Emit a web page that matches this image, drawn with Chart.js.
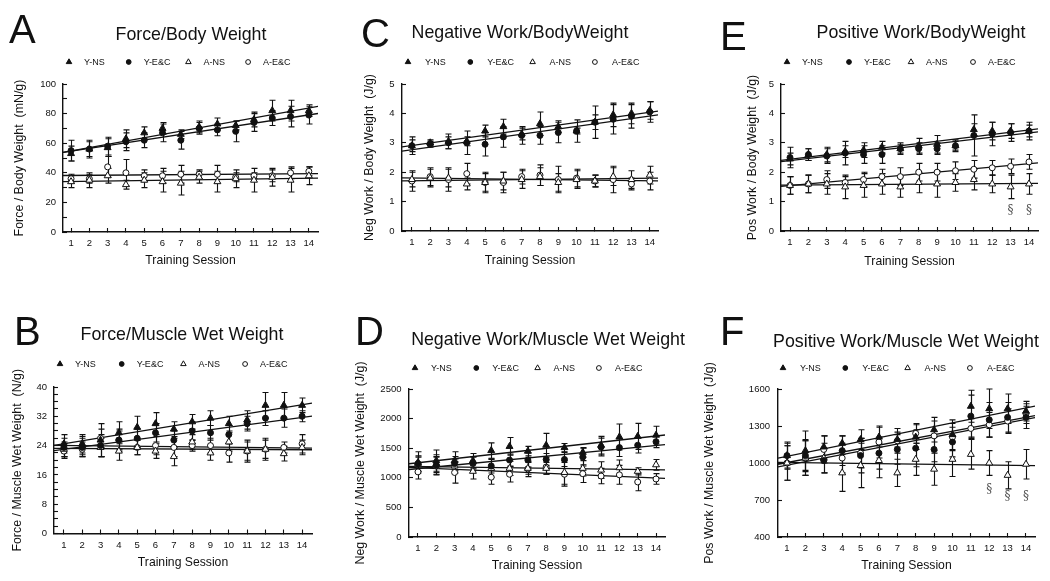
<!DOCTYPE html>
<html>
<head>
<meta charset="utf-8">
<script src="https://cdn.jsdelivr.net/npm/chart.js@4.4.1/dist/chart.umd.min.js"></script>
<style>
  html, body { margin: 0; padding: 0; background: #fff; }
  #page { position: relative; width: 1050px; height: 581px; overflow: hidden; }
  canvas { position: absolute; }
</style>
</head>
<body>
<div id="page">
  <canvas id="cA" width="350" height="290" style="left:0;top:0"></canvas>
  <canvas id="cC" width="350" height="290" style="left:350px;top:0"></canvas>
  <canvas id="cE" width="350" height="290" style="left:700px;top:0"></canvas>
  <canvas id="cB" width="350" height="291" style="left:0;top:290px"></canvas>
  <canvas id="cD" width="350" height="291" style="left:350px;top:290px"></canvas>
  <canvas id="cF" width="350" height="291" style="left:700px;top:290px"></canvas>
</div>
<script>
// ── Data ────────────────────────────────────────────────────────────────────
const sessions = [1, 2, 3, 4, 5, 6, 7, 8, 9, 10, 11, 12, 13, 14];
const groups = ['Y-NS', 'Y-E&C', 'A-NS', 'A-E&C'];

// A: Force / Body Weight (mN/g)
const A_YNS   = [53, 56, 57, 63, 67, 70, 66, 71, 73, 72, 76, 82, 82, 82];
const A_YNS_e = [5, 5, 6, 6, 4, 4, 3, 4, 4, 3, 5, 7, 7, 4];
const A_YEC   = [55, 56, 58, 61, 62, 67, 62, 70, 69, 68, 74, 77, 78, 79];
const A_YEC_e = [7, 6, 6, 6, 5, 6, 6, 4, 4, 7, 6, 5, 7, 6];
const A_ANS   = [34, 35, 38, 32, 35, 34, 33, 37, 34, 36, 35, 37, 35, 38];
const A_ANS_e = [4, 5, 5, 3, 5, 7, 8, 4, 7, 6, 8, 6, 8, 6];
const A_AEC   = [36, 36, 44, 40, 38, 38, 39, 39, 39, 37, 38, 38, 40, 41];
const A_AEC_e = [3, 3, 7, 9, 4, 5, 6, 3, 6, 3, 2, 4, 4, 3];
const A_yTicks = [0, 20, 40, 60, 80, 100];
const A_yMinor = [10, 30, 50, 70, 90];

// C: Negative Work / Body Weight (J/g)
const C_YNS   = [2.9, 3.0, 3.05, 3.05, 3.4, 3.55, 3.3, 3.65, 3.55, 3.4, 3.7, 3.95, 4.0, 4.1];
const C_YNS_e = [0.3, 0.1, 0.25, 0.15, 0.2, 0.25, 0.2, 0.4, 0.2, 0.1, 0.25, 0.4, 0.35, 0.3];
const C_YEC   = [2.9, 2.95, 3.0, 3.0, 2.95, 3.2, 3.25, 3.25, 3.35, 3.4, 3.7, 3.8, 3.9, 4.05];
const C_YEC_e = [0.2, 0.1, 0.2, 0.4, 0.4, 0.35, 0.3, 0.3, 0.35, 0.38, 0.55, 0.5, 0.4, 0.35];
const C_ANS   = [1.75, 1.8, 1.8, 1.6, 1.65, 1.7, 1.75, 1.85, 1.65, 1.75, 1.7, 1.85, 1.75, 1.9];
const C_ANS_e = [0.25, 0.3, 0.3, 0.2, 0.3, 0.3, 0.3, 0.3, 0.3, 0.3, 0.2, 0.3, 0.3, 0.3];
const C_AEC   = [1.7, 1.85, 1.75, 1.95, 1.65, 1.65, 1.85, 1.9, 1.75, 1.8, 1.7, 1.75, 1.6, 1.7];
const C_AEC_e = [0.35, 0.3, 0.4, 0.35, 0.35, 0.35, 0.25, 0.35, 0.45, 0.3, 0.2, 0.45, 0.2, 0.3];
const C_yTicks = [0, 1, 2, 3, 4, 5];

// E: Positive Work / Body Weight (J/g)
const E_YNS   = [2.45, 2.6, 2.6, 2.7, 2.75, 2.85, 2.8, 2.9, 2.95, 2.9, 3.45, 3.4, 3.4, 3.4];
const E_YNS_e = [0.2, 0.2, 0.25, 0.2, 0.25, 0.2, 0.15, 0.25, 0.3, 0.15, 0.2, 0.3, 0.25, 0.2];
const E_YEC   = [2.5, 2.6, 2.55, 2.65, 2.6, 2.6, 2.8, 2.8, 2.8, 2.9, 3.25, 3.3, 3.35, 3.4];
const E_YEC_e = [0.35, 0.2, 0.25, 0.4, 0.3, 0.3, 0.2, 0.2, 0.2, 0.2, 0.7, 0.4, 0.3, 0.3];
const E_ANS   = [1.55, 1.6, 1.6, 1.5, 1.55, 1.6, 1.5, 1.65, 1.6, 1.65, 1.75, 1.6, 1.5, 1.6];
const E_ANS_e = [0.3, 0.3, 0.35, 0.4, 0.4, 0.35, 0.35, 0.35, 0.45, 0.3, 0.35, 0.3, 0.4, 0.35];
const E_AEC   = [1.55, 1.6, 1.75, 1.65, 1.75, 1.85, 1.85, 2.0, 2.0, 2.05, 2.1, 2.15, 2.2, 2.35];
const E_AEC_e = [0.3, 0.3, 0.3, 0.2, 0.25, 0.25, 0.3, 0.3, 0.3, 0.3, 0.3, 0.25, 0.25, 0.25];
const E_yTicks = [0, 1, 2, 3, 4, 5];
const E_markSessions = [13, 14];
const E_markY = [0.7, 0.7];

// B: Force / Muscle Wet Weight (N/g)
const B_YNS   = [24.5, 24.5, 25.5, 27.5, 29, 30, 28.5, 30.5, 31.5, 30, 31, 35, 35, 35];
const B_YNS_e = [2.5, 2.5, 4.5, 3, 3, 3, 2, 2, 2, 2, 2.5, 3.5, 3.5, 2];
const B_YEC   = [23.5, 23.5, 24, 25.5, 26, 27.5, 25.5, 28, 27.5, 27, 30, 31.5, 31.5, 32];
const B_YEC_e = [2.5, 2.5, 3, 3, 2.5, 2.5, 2.5, 2.5, 2, 2.5, 2, 2, 2.5, 1.5];
const B_ANS   = [23, 24, 23.5, 22.5, 23.5, 22.5, 21, 25, 22, 25, 22.5, 23, 21.8, 23.5];
const B_ANS_e = [2, 2.5, 2.5, 2.5, 2, 2, 2.5, 2, 2, 2.5, 2.5, 2.5, 2, 2];
const B_AEC   = [22.5, 23, 26, 25.5, 23.5, 24, 23.5, 24, 24, 22, 22.5, 23, 23.5, 24.5];
const B_AEC_e = [2, 2, 2.5, 2.5, 2, 2.5, 2.5, 1.5, 2, 2.5, 3, 3, 1.5, 2.5];
const B_yTicks = [0, 8, 16, 24, 32, 40];
const B_yMinor = [2, 4, 6, 10, 12, 14, 18, 20, 22, 26, 28, 30, 34, 36, 38];

// D: Negative Work / Muscle Wet Weight (J/g)
const D_YNS   = [1260, 1290, 1290, 1290, 1460, 1530, 1450, 1550, 1510, 1430, 1550, 1690, 1700, 1720];
const D_YNS_e = [180, 180, 150, 120, 130, 150, 80, 200, 70, 80, 150, 220, 220, 150];
const D_YEC   = [1240, 1210, 1240, 1250, 1200, 1300, 1300, 1310, 1310, 1350, 1520, 1510, 1550, 1610];
const D_YEC_e = [130, 150, 120, 100, 120, 100, 120, 100, 120, 150, 150, 150, 130, 100];
const D_ANS   = [1230, 1240, 1200, 1110, 1160, 1160, 1160, 1160, 1090, 1160, 1130, 1170, 1110, 1220];
const D_ANS_e = [120, 150, 120, 130, 150, 120, 100, 100, 200, 130, 140, 130, 60, 90];
const D_AEC   = [1100, 1200, 1090, 1240, 1010, 1060, 1150, 1180, 1060, 1070, 1030, 1050, 930, 980];
const D_AEC_e = [120, 150, 180, 120, 120, 130, 130, 120, 200, 150, 130, 160, 150, 90];
const D_yTicks = [0, 500, 1000, 1500, 2000, 2500];

// F: Positive Work / Muscle Wet Weight (J/g)
const F_YNS   = [1060, 1100, 1130, 1160, 1190, 1210, 1190, 1210, 1270, 1230, 1460, 1440, 1440, 1420];
const F_YNS_e = [100, 160, 90, 60, 80, 80, 60, 100, 100, 120, 130, 160, 120, 80];
const F_YEC   = [1060, 1060, 1020, 1100, 1060, 1080, 1110, 1120, 1110, 1170, 1380, 1350, 1370, 1370];
const F_YEC_e = [110, 130, 100, 120, 140, 130, 120, 150, 100, 120, 170, 140, 120, 90];
const F_ANS   = [1000, 1040, 1040, 920, 980, 1020, 920, 1030, 950, 1030, 1070, 1000, 900, 990];
const F_ANS_e = [140, 140, 120, 150, 180, 140, 110, 130, 130, 140, 120, 100, 110, 120];
const F_AEC   = [1000, 1040, 1110, 1040, 1080, 1170, 1180, 1240, 1220, 1210, 1280, 1310, 1340, 1400];
const F_AEC_e = [140, 140, 110, 120, 120, 130, 100, 80, 120, 110, 80, 100, 100, 80];
const F_yTicks = [400, 700, 1000, 1300, 1600];
const F_markSessions = [12, 13, 14];
const F_markY = [780, 725, 725];

// ── Panel layout (local canvas px) ──────────────────────────────────────────
const FONT = "'Liberation Sans', Arial, Helvetica, sans-serif";
const INK = '#111';
const TICK_SIZE = 9.5;
const XTITLE_SIZE = 12.2;
const YTITLE_SIZE = 12.4;
const styles = [
  { shape: 'triangle', fill: true },
  { shape: 'circle', fill: true },
  { shape: 'triangle', fill: false },
  { shape: 'circle', fill: false },
];

const panels = [
  { id: 'cA', letter: 'A', lx: 9, ly: 43, title: 'Force/Body Weight', tx: 191, ty: 35,
    legX: 69, legDX: 59.7, legTX: 15, legY: 62,
    area: [63, 84, 318, 232], xMin: 0.56, xMax: 14.5, yMin: 0, yMax: 100,
    yTicks: A_yTicks, yMinor: A_yMinor, yTitle: 'Force / Body Weight  (mN/g)', yTitleX: 20, yGap: 7,
    xTitleY: 261, xLabOff: 11,
    series: [[A_YNS, A_YNS_e], [A_YEC, A_YEC_e], [A_ANS, A_ANS_e], [A_AEC, A_AEC_e]] },
  { id: 'cC', letter: 'C', lx: 11, ly: 47, title: 'Negative Work/BodyWeight', tx: 170, ty: 33,
    legX: 58, legDX: 62.3, legTX: 17, legY: 62,
    area: [52, 84, 308, 231], xMin: 0.46, xMax: 14.45, yMin: 0, yMax: 5,
    yTicks: C_yTicks, yMinor: [], yTitle: 'Neg Work / Body Weight  (J/g)', yTitleX: 20, yGap: 7.5,
    xTitleY: 261, xLabOff: 11,
    series: [[C_YNS, C_YNS_e], [C_YEC, C_YEC_e], [C_ANS, C_ANS_e], [C_AEC, C_AEC_e]] },
  { id: 'cE', letter: 'E', lx: 20, ly: 50, title: 'Positive Work/BodyWeight', tx: 221, ty: 33,
    legX: 87, legDX: 62, legTX: 15, legY: 62,
    area: [81, 84, 338, 231], xMin: 0.51, xMax: 14.49, yMin: 0, yMax: 5,
    yTicks: E_yTicks, yMinor: [], yTitle: 'Pos Work / Body Weight  (J/g)', yTitleX: 53, yGap: 7,
    xTitleY: 262, xLabOff: 11,
    marks: [E_markSessions, E_markY],
    series: [[E_YNS, E_YNS_e], [E_YEC, E_YEC_e], [E_ANS, E_ANS_e], [E_AEC, E_AEC_e]] },
  { id: 'cB', letter: 'B', lx: 14, ly: 55, title: 'Force/Muscle Wet Weight', tx: 182, ty: 45,
    legX: 60, legDX: 61.7, legTX: 15, legY: 74,
    area: [54, 97, 312, 243.5], xMin: 0.46, xMax: 14.54, yMin: 0, yMax: 40,
    yTicks: B_yTicks, yMinor: B_yMinor, yTitle: 'Force / Muscle Wet Weight  (N/g)', yTitleX: 18, yGap: 7,
    xTitleY: 273, xLabOff: 11.5,
    series: [[B_YNS, B_YNS_e], [B_YEC, B_YEC_e], [B_ANS, B_ANS_e], [B_AEC, B_AEC_e]] },
  { id: 'cD', letter: 'D', lx: 5, ly: 55, title: 'Negative Work/Muscle Wet Weight', tx: 198, ty: 50,
    legX: 65, legDX: 61.3, legTX: 16, legY: 78,
    area: [59, 99, 315, 247], xMin: 0.51, xMax: 14.49, yMin: 0, yMax: 2500,
    yTicks: D_yTicks, yMinor: [], yTitle: 'Neg Work / Muscle Wet Weight  (J/g)', yTitleX: 11, yGap: 7.5,
    xTitleY: 276, xLabOff: 11,
    series: [[D_YNS, D_YNS_e], [D_YEC, D_YEC_e], [D_ANS, D_ANS_e], [D_AEC, D_AEC_e]] },
  { id: 'cF', letter: 'F', lx: 20, ly: 55, title: 'Positive Work/Muscle Wet Weight', tx: 206, ty: 52,
    legX: 83, legDX: 62.3, legTX: 17, legY: 78,
    area: [78, 99, 335, 247], xMin: 0.51, xMax: 14.49, yMin: 400, yMax: 1600,
    yTicks: F_yTicks, yMinor: [], yTitle: 'Pos Work / Muscle Wet Weight  (J/g)', yTitleX: 10, yGap: 8,
    xTitleY: 276, xLabOff: 11,
    marks: [F_markSessions, F_markY],
    series: [[F_YNS, F_YNS_e], [F_YEC, F_YEC_e], [F_ANS, F_ANS_e], [F_AEC, F_AEC_e]] },
];

// ── Helpers ─────────────────────────────────────────────────────────────────
function linFit(ys) {
  const n = sessions.length;
  const mx = sessions.reduce((a, b) => a + b, 0) / n;
  const my = ys.reduce((a, b) => a + b, 0) / n;
  let sxy = 0, sxx = 0;
  sessions.forEach((x, i) => { sxy += (x - mx) * (ys[i] - my); sxx += (x - mx) * (x - mx); });
  const slope = sxy / sxx;
  return { slope, icpt: my - slope * mx };
}

function drawMarker(ctx, shape, fill, x, y, r) {
  ctx.beginPath();
  if (shape === 'triangle') {
    ctx.moveTo(x, y - r);
    ctx.lineTo(x + r * 0.866, y + r * 0.5);
    ctx.lineTo(x - r * 0.866, y + r * 0.5);
    ctx.closePath();
  } else {
    ctx.arc(x, y, r, 0, Math.PI * 2);
  }
  ctx.fillStyle = fill ? INK : '#fff';
  ctx.strokeStyle = INK;
  ctx.lineWidth = 1;
  ctx.fill();
  ctx.stroke();
}

// error bars, panel letter, title, legend and § marks
function decorPlugin(p) {
  return {
    id: 'decor',
    beforeDatasetsDraw(chart) {
      const { ctx, scales: { x: xs, y: ys } } = chart;
      ctx.save();
      ctx.strokeStyle = INK;
      ctx.lineWidth = 1.1;
      chart.data.datasets.forEach(ds => {
        if (!ds.sem) return;
        ds.data.forEach((pt, i) => {
          const px = Math.round(xs.getPixelForValue(pt.x)) + 0.5;
          const y1 = ys.getPixelForValue(pt.y - ds.sem[i]);
          const y2 = ys.getPixelForValue(pt.y + ds.sem[i]);
          ctx.beginPath();
          ctx.moveTo(px, y1); ctx.lineTo(px, y2);
          ctx.moveTo(px - 3, y1); ctx.lineTo(px + 3, y1);
          ctx.moveTo(px - 3, y2); ctx.lineTo(px + 3, y2);
          ctx.stroke();
        });
      });
      ctx.restore();
    },
    afterDraw(chart) {
      const ctx = chart.ctx;
      ctx.save();
      ctx.fillStyle = INK;
      ctx.textAlign = 'left';
      ctx.textBaseline = 'alphabetic';
      ctx.font = `40px ${FONT}`;
      ctx.fillText(p.letter, p.lx, p.ly);

      ctx.textAlign = 'center';
      ctx.textBaseline = 'middle';
      ctx.font = `17.8px ${FONT}`;
      ctx.fillText(p.title, p.tx, p.ty);

      ctx.font = `9px ${FONT}`;
      ctx.textAlign = 'left';
      groups.forEach((g, i) => {
        const sx = p.legX + i * p.legDX;
        const st = styles[i];
        drawMarker(ctx, st.shape, st.fill, sx, p.legY, st.shape === 'triangle' ? 3.2 : 2.4);
        ctx.fillStyle = INK;
        ctx.fillText(g, sx + p.legTX, p.legY + 0.5);
      });

      if (p.marks) {
        const xs = chart.scales.x, ys = chart.scales.y;
        ctx.font = `12px 'DejaVu Serif', serif`;
        ctx.fillStyle = '#555';
        ctx.textAlign = 'center';
        p.marks[0].forEach((s, i) => {
          ctx.fillText('§', xs.getPixelForValue(s), ys.getPixelForValue(p.marks[1][i]));
        });
      }
      ctx.restore();
    }
  };
}

// ── Build charts ────────────────────────────────────────────────────────────
Chart.defaults.font.family = FONT;
Chart.defaults.color = INK;

panels.forEach(p => {
  const canvas = document.getElementById(p.id);
  const W = canvas.width, H = canvas.height;
  const [L, T, R, Bt] = p.area;

  const datasets = [];
  p.series.forEach(([vals, errs], i) => {
    const st = styles[i];
    datasets.push({
      label: groups[i],
      data: sessions.map((s, k) => ({ x: s, y: vals[k] })),
      sem: errs,
      pointStyle: st.shape,
      pointRadius: st.shape === 'triangle' ? 4 : 3,
      pointBackgroundColor: st.fill ? INK : '#fff',
      pointBorderColor: INK,
      pointBorderWidth: 1,
      showLine: false,
      order: 0,
    });
  });
  p.series.forEach(([vals]) => {
    const f = linFit(vals);
    datasets.push({
      data: [p.xMin, p.xMax].map(x => ({ x, y: f.icpt + f.slope * x })),
      showLine: true,
      pointRadius: 0,
      borderColor: INK,
      borderWidth: 1.3,
      order: 1,
    });
  });

  const tickLH = TICK_SIZE * 1.2;
  const majors = p.yTicks;

  new Chart(canvas, {
    type: 'scatter',
    data: { datasets },
    options: {
      responsive: false,
      animation: false,
      events: [],
      layout: { padding: { left: 0, top: T, right: W - R, bottom: 0 } },
      plugins: { legend: { display: false }, tooltip: { enabled: false } },
      scales: {
        x: {
          type: 'linear',
          min: p.xMin,
          max: p.xMax,
          afterBuildTicks: s => { s.ticks = sessions.map(v => ({ value: v })); },
          afterFit: s => { s.height = H - Bt; },
          ticks: {
            autoSkip: false, maxRotation: 0, color: INK,
            font: { size: TICK_SIZE },
            padding: p.xLabOff - tickLH / 2 + 4,
            callback: v => String(v),
          },
          grid: { display: true, drawOnChartArea: false, drawTicks: true, tickLength: -4, tickColor: INK, tickWidth: 1.1 },
          border: { display: true, color: INK, width: 1.4 },
          title: {
            display: true, text: 'Training Session', color: INK,
            font: { size: XTITLE_SIZE },
            padding: { top: 0, bottom: H - p.xTitleY - XTITLE_SIZE * 0.6 },
          },
        },
        y: {
          type: 'linear',
          min: p.yMin,
          max: p.yMax,
          afterBuildTicks: s => {
            s.ticks = majors.concat(p.yMinor).sort((a, b) => a - b).map(v => ({ value: v }));
          },
          afterFit: s => { s.width = L; },
          ticks: {
            autoSkip: false, color: INK,
            font: { size: TICK_SIZE },
            padding: p.yGap + 4,
            callback: v => majors.includes(v) ? String(v) : '',
          },
          grid: { display: true, drawOnChartArea: false, drawTicks: true, tickLength: -4, tickColor: INK, tickWidth: 1.1 },
          border: { display: true, color: INK, width: 1.4 },
          title: {
            display: true, text: p.yTitle, color: INK,
            font: { size: YTITLE_SIZE },
            padding: { top: p.yTitleX - YTITLE_SIZE * 0.6, bottom: 0 },
          },
        },
      },
    },
    plugins: [decorPlugin(p)],
  });
});
</script>
</body>
</html>
